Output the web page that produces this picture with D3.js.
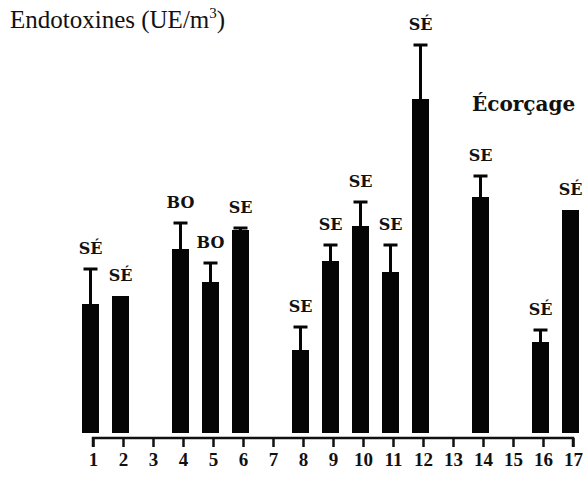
<!DOCTYPE html>
<html>
<head>
<meta charset="utf-8">
<script src="https://cdn.jsdelivr.net/npm/d3@7"></script>
<style>
  html, body { margin: 0; padding: 0; background: #fff; }
  svg { display: block; }
  .serif { font-family: "Liberation Serif", "Times New Roman", serif; }
  .serif-wide { font-family: "DejaVu Serif", "Liberation Serif", serif; }
</style>
</head>
<body>
<svg id="chart" width="586" height="477"></svg>
<script>
// Sampling sites along the x axis
const sites = [1, 2, 3, 4, 5, 6, 7, 8, 9, 10, 11, 12, 13, 14, 15, 16, 17];
// Mean endotoxin level per site (null = no measurement)
const means = [129, 137, null, 184, 151, 203, null, 83, 172, 207, 161, 334, null, 236, null, 91, 223];
// Standard deviation shown as the upper error bar
const errors = [35, 0, null, 26, 19, 2, null, 23, 16, 24, 27, 54, null, 21, null, 12, 0];
// Label printed above each bar
const tags = ["SÉ", "SÉ", "", "BO", "BO", "SE", "", "SE", "SE", "SE", "SE", "SÉ", "", "SE", "", "SÉ", "SÉ"];

const svg = d3.select("#chart");

const x = d3.scalePoint().domain(sites).range([93, 573]);
const y = d3.scaleLinear().domain([0, 400]).range([433, 33]);

const barW = 17;
const shift = -2.5;

const rows = sites.map((s, i) => ({ site: s, mean: means[i], err: errors[i], tag: tags[i] }))
  .filter(d => d.mean !== null);

// Bars
svg.append("g").selectAll("rect")
  .data(rows).join("rect")
  .attr("x", d => x(d.site) + shift - barW / 2)
  .attr("y", d => y(d.mean))
  .attr("width", barW)
  .attr("height", d => y(0) - y(d.mean))
  .attr("fill", "#050505");

// Error bars (upper half only)
const eb = svg.append("g").attr("stroke", "#050505");
eb.selectAll("line.stem")
  .data(rows.filter(d => d.err > 0)).join("line")
  .attr("class", "stem")
  .attr("x1", d => x(d.site) + shift).attr("x2", d => x(d.site) + shift)
  .attr("y1", d => y(d.mean)).attr("y2", d => y(d.mean + d.err))
  .attr("stroke-width", 3);
eb.selectAll("line.cap")
  .data(rows.filter(d => d.err > 0)).join("line")
  .attr("class", "cap")
  .attr("x1", d => x(d.site) + shift - 7).attr("x2", d => x(d.site) + shift + 7)
  .attr("y1", d => y(d.mean + d.err)).attr("y2", d => y(d.mean + d.err))
  .attr("stroke-width", 3);

// Tags above the bars
svg.append("g").selectAll("text")
  .data(rows).join("text")
  .attr("class", "serif-wide")
  .attr("x", d => x(d.site) + shift)
  .attr("y", d => y(d.mean + d.err) - 15)
  .attr("text-anchor", "middle")
  .style("font-weight", "bold")
  .style("font-size", "16px")
  .attr("fill", "#111")
  .text(d => d.tag);

// Bottom axis
const axis = d3.axisBottom(x).tickSize(9).tickPadding(6);
const gx = svg.append("g").attr("transform", "translate(0,438)").call(axis);
gx.attr("font-family", null).attr("font-size", null);
gx.select(".domain")
  .attr("d", `M${x(1)},${9}V0H${x(17)}V${9}`)
  .attr("stroke", "#111").attr("stroke-width", 2.5).attr("fill", "none");
gx.selectAll(".tick line").attr("stroke", "#111").attr("stroke-width", 2.5);
gx.selectAll(".tick text")
  .attr("class", "serif")
  .style("font-weight", "bold")
  .style("font-size", "19px")
  .attr("fill", "#111");

// Axis title
const title = svg.append("text")
  .attr("class", "serif")
  .attr("x", 10).attr("y", 28)
  .style("font-size", "25px")
  .attr("fill", "#111");
title.append("tspan").text("Endotoxines (UE/m");
title.append("tspan").style("font-size", "15px").attr("dy", -10).text("3");
title.append("tspan").attr("dy", 10).text(")");

// Panel name
svg.append("text")
  .attr("class", "serif-wide")
  .attr("x", 472).attr("y", 111)
  .style("font-weight", "bold")
  .style("font-size", "20px")
  .attr("fill", "#111")
  .text("Écorçage");
</script>
</body>
</html>
